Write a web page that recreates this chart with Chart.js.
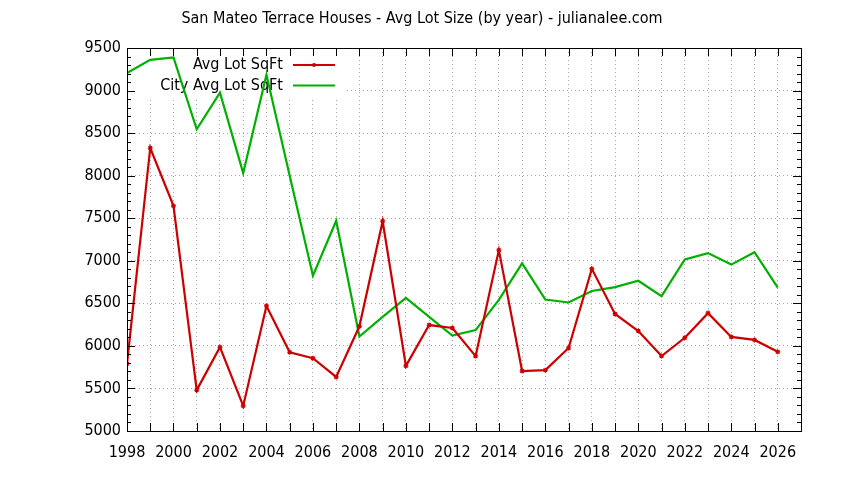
<!DOCTYPE html>
<html>
<head>
<meta charset="utf-8">
<script src="https://cdn.jsdelivr.net/npm/chart.js@4"></script>
<style>
html,body{margin:0;padding:0;background:#fff;}
#wrap{width:844px;height:480px;position:relative;}
</style>
</head>
<body>
<div id="wrap"><canvas id="c"></canvas></div>
<script>
const titleText = "San Mateo Terrace Houses - Avg Lot Size (by year) - julianalee.com";
const years = [1998,1999,2000,2001,2002,2003,2004,2005,2006,2007,2008,2009,2010,2011,2012,2013,2014,2015,2016,2017,2018,2019,2020,2021,2022,2023,2024,2025,2026];
const avgLotSqFt = [5790,8325,7645,5480,5985,5295,6470,5925,5855,5635,6230,7465,5765,6245,6210,5880,7125,5705,5715,5975,6905,6375,6175,5880,6095,6385,6105,6070,5930];
const cityAvgLotSqFt = [9205,9360,9390,8545,8975,8030,9185,8000,6825,7470,6110,6340,6565,6340,6120,6185,6540,6970,6545,6510,6645,6690,6765,6585,7015,7090,6955,7100,6685];
const xTickLabels = [1998,2000,2002,2004,2006,2008,2010,2012,2014,2016,2018,2020,2022,2024,2026];
const seriesNames = ["Avg Lot SqFt","City Avg Lot SqFt"];
const seriesColors = ["#cc0000","#00b000"];

const FONT = "'DejaVu Sans Condensed', 'Liberation Sans', sans-serif";

const decorPlugin = {
  id: 'decor',
  beforeDatasetsDraw(chart) {
    const ctx = chart.ctx, a = chart.chartArea;
    ctx.save();
    ctx.fillStyle = '#ffffff';
    ctx.fillRect(a.left + 1, a.top + 1, 343 - a.left, 48);
    ctx.font = '16px ' + FONT;
    ctx.textAlign = 'right';
    ctx.textBaseline = 'middle';
    ctx.fillStyle = '#000';
    const rows = [65, 85.5];
    seriesNames.forEach((n, i) => {
      ctx.fillText(n, 283, rows[i]);
      ctx.strokeStyle = seriesColors[i];
      ctx.lineWidth = 2;
      ctx.beginPath();
      ctx.moveTo(293, rows[i]);
      ctx.lineTo(335, rows[i]);
      ctx.stroke();
    });
    ctx.fillStyle = seriesColors[0];
    ctx.beginPath();
    ctx.arc(314, rows[0], 2, 0, Math.PI * 2);
    ctx.fill();
    ctx.restore();
  },
  afterDatasetsDraw(chart) {
    const ctx = chart.ctx, a = chart.chartArea;
    const xs = chart.scales.x, ys = chart.scales.y;
    ctx.save();
    ctx.strokeStyle = '#000';
    ctx.lineWidth = 1;
    ctx.strokeRect(Math.round(a.left) + 0.5, Math.round(a.top) + 0.5, Math.round(a.right - a.left), Math.round(a.bottom - a.top));
    ctx.beginPath();
    for (let yr = xs.min; yr <= xs.max; yr++) {
      const px = Math.round(xs.getPixelForValue(yr)) + 0.5;
      ctx.moveTo(px, a.bottom); ctx.lineTo(px, a.bottom - 8);
      ctx.moveTo(px, a.top); ctx.lineTo(px, a.top + 8);
    }
    for (let v = ys.min; v <= ys.max; v += 100) {
      const py = Math.round(ys.getPixelForValue(v)) + 0.5;
      const len = (v % 500 === 0) ? 8 : 4;
      ctx.moveTo(a.left, py); ctx.lineTo(a.left + len, py);
      ctx.moveTo(a.right, py); ctx.lineTo(a.right - len, py);
    }
    ctx.stroke();
    ctx.font = '16px ' + FONT;
    ctx.fillStyle = '#000';
    ctx.textAlign = 'center';
    ctx.textBaseline = 'middle';
    ctx.fillText(titleText, 422, 19);
    ctx.restore();
  }
};

const grid = {
  color: '#a8a8a8',
  lineWidth: 1,
  drawTicks: false
};

new Chart(document.getElementById('c'), {
  type: 'line',
  data: {
    datasets: [
      {
        label: seriesNames[0],
        data: years.map((y, i) => ({x: y, y: avgLotSqFt[i]})),
        borderColor: seriesColors[0],
        backgroundColor: seriesColors[0],
        borderWidth: 2.2,
        pointStyle: 'star',
        pointRadius: 2.5,
        pointBorderWidth: 1.2,
        tension: 0,
        fill: false
      },
      {
        label: seriesNames[1],
        data: years.map((y, i) => ({x: y, y: cityAvgLotSqFt[i]})),
        borderColor: seriesColors[1],
        backgroundColor: seriesColors[1],
        borderWidth: 2.2,
        pointRadius: 0,
        tension: 0,
        fill: false
      }
    ]
  },
  options: {
    responsive: true,
    maintainAspectRatio: false,
    animation: false,
    events: [],
    layout: { padding: { top: 48, right: 43, left: 0, bottom: 0 } },
    plugins: { legend: { display: false }, title: { display: false }, tooltip: { enabled: false } },
    scales: {
      x: {
        type: 'linear',
        min: 1998,
        max: 2027,
        afterFit(s) { s.height = 49; },
        afterBuildTicks(s) {
          s.ticks = [];
          for (let y = 1998; y <= 2027; y++) s.ticks.push({value: y});
        },
        border: { display: false, dash: [1, 3] },
        grid: Object.assign({}, grid),
        ticks: {
          autoSkip: false,
          maxRotation: 0,
          padding: 12,
          color: '#000',
          font: { family: FONT, size: 16 },
          callback: (v) => xTickLabels.includes(v) ? String(v) : ''
        }
      },
      y: {
        type: 'linear',
        min: 5000,
        max: 9500,
        afterFit(s) { s.width = 127; },
        border: { display: false, dash: [1, 3] },
        grid: Object.assign({}, grid),
        ticks: {
          stepSize: 500,
          padding: 6,
          color: '#000',
          font: { family: FONT, size: 16 },
          callback: (v) => String(v)
        }
      }
    }
  },
  plugins: [decorPlugin]
});
</script>
</body>
</html>
